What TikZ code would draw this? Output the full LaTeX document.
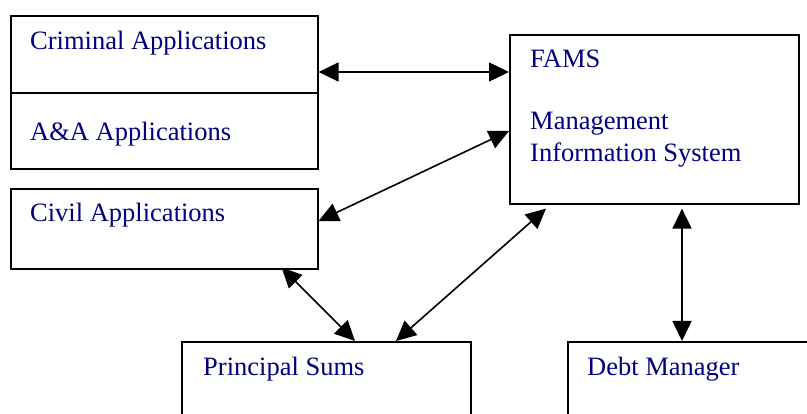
\documentclass[tikz,border=0pt]{standalone}
\usepackage{fontspec}
\setmainfont{Liberation Serif}
\usetikzlibrary{arrows.meta}
\definecolor{labelblue}{RGB}{0,0,128}
\tikzset{
  box/.style={draw=black, line width=1.6pt, rectangle, inner sep=0pt, anchor=north west},
  lbl/.style={anchor=base west, inner sep=0pt, text=labelblue,
              font=\fontsize{26.5}{32}\selectfont},
  link/.style={line width=1.6pt, {Triangle[length=20pt,width=19pt]}-{Triangle[length=20pt,width=19pt]}}
}
\begin{document}
\begin{tikzpicture}[x=1pt, y=-1pt]
  \useasboundingbox (0,0) rectangle (807,414);
  \clip (0,0) rectangle (807,414);

  % boxes
  \node[box, minimum width=307pt, minimum height=77pt]  (crim)  at (10,15)  {};
  \node[box, minimum width=307pt, minimum height=76pt]  (aa)    at (10,92)  {};
  \node[box, minimum width=307pt, minimum height=80pt]  (civil) at (10,188) {};
  \node[box, minimum width=289pt, minimum height=169pt] (fams)  at (509,34) {};
  \node[box, minimum width=289pt, minimum height=100pt] (psums) at (181,341) {};
  \node[box, minimum width=270pt, minimum height=100pt] (debt)  at (567,341) {};

  % labels
  \node[lbl] (tcrim)  at (30,50)   {Criminal Applications};
  \node[lbl] (taa)    at (30,141)  {A\&A Applications};
  \node[lbl] (tcivil) at (30,222)  {Civil Applications};
  \node[lbl] (tfams)  at (530,68)  {FAMS};
  \node[lbl] (tmis1)  at (530,130) {Management};
  \node[lbl] (tmis2)  at (530,162) {Information System};
  \node[lbl] (tpsums) at (203,376) {Principal Sums};
  \node[lbl] (tdebt)  at (587,376) {Debt Manager};

  % connectors
  \draw[link] ([shift={(0,57)}]crim.north east) -- ([shift={(0,38)}]fams.north west);
  \draw[link] ([shift={(0,33)}]civil.north east) -- ([shift={(0,97)}]fams.north west);
  \draw[link] ([shift={(-37,-2)}]civil.south east) -- ([shift={(174,0)}]psums.north west);
  \draw[link] ([shift={(215,0)}]psums.north west) -- ([shift={(37,4)}]fams.south west);
  \draw[link] ([shift={(173,4)}]fams.south west) -- ([shift={(115,0)}]debt.north west);
\end{tikzpicture}
\end{document}
